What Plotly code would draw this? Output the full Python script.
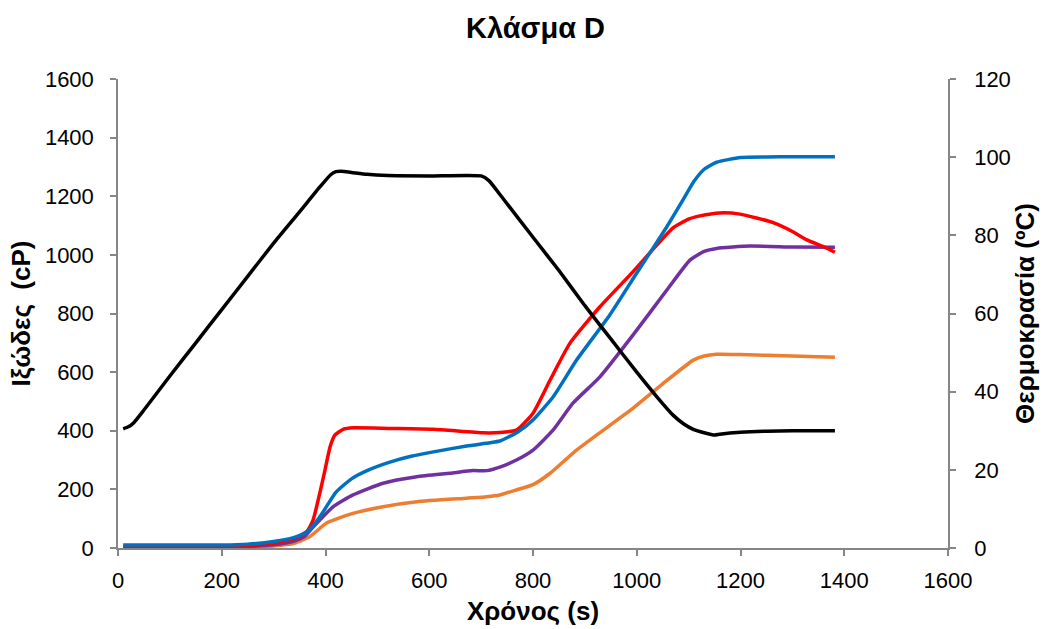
import plotly.graph_objects as go

# Temperature (right axis)
t_temp = [10, 20, 30, 50, 100, 150, 200, 250, 300, 350, 390, 410, 420, 430, 450, 480, 520, 600, 700,
          715, 740, 800, 850, 900, 950, 1000, 1040, 1070, 1090, 1110, 1130, 1150, 1160, 1200, 1250, 1300, 1382]
temp = [30.5, 31, 32, 35.3, 44, 52.5, 61, 69.5, 78, 86, 92.5, 95.5, 96.3, 96.4, 96.1, 95.6, 95.3, 95.2, 95.2,
        94, 89.8, 79.5, 71, 62, 53.5, 45, 38.5, 34, 31.8, 30.3, 29.5, 28.9, 29.1, 29.6, 29.9, 30, 30]

# Viscosity series (left axis)
t_blue = [10, 100, 200, 250, 300, 340, 365, 380, 396, 420, 450, 480, 524, 565, 608, 672, 717, 736, 770, 800,
          839, 884, 948, 1000, 1058, 1090, 1110, 1130, 1154, 1200, 1250, 1300, 1382]
blue = [10, 10, 10, 13, 22, 36, 55, 85, 125, 190, 236, 264, 293, 313, 328, 348, 359, 365, 395, 437,
        516, 641, 795, 938, 1096, 1190, 1250, 1292, 1316, 1332, 1334, 1335, 1335]

t_red = [10, 100, 200, 250, 300, 340, 364, 376, 389, 399, 409, 418, 434, 454, 524, 608, 704, 736, 768, 800,
         833, 871, 929, 993, 1070, 1100, 1122, 1160, 1199, 1263, 1300, 1328, 1360, 1382]
red = [3, 3, 3, 6, 16, 32, 56, 95, 187, 266, 346, 385, 405, 410, 408, 405, 393, 394, 402, 460,
       573, 698, 823, 943, 1092, 1122, 1133, 1143, 1139, 1110, 1080, 1051, 1028, 1009]

t_purple = [10, 100, 200, 250, 300, 340, 360, 377, 415, 453, 511, 576, 640, 684, 711, 736, 768, 800, 839,
            877, 929, 993, 1058, 1103, 1130, 1154, 1218, 1300, 1382]
purple = [3, 3, 3, 5, 11, 24, 40, 73, 141, 181, 221, 243, 255, 264, 264, 276, 300, 334, 403,
          494, 584, 727, 880, 983, 1012, 1022, 1030, 1027, 1026]

t_orange = [10, 100, 200, 250, 300, 340, 370, 402, 453, 511, 576, 672, 711, 736, 768, 800, 833, 884,
            993, 1050, 1109, 1130, 1154, 1200, 1300, 1382]
orange = [1, 1, 1, 3, 7, 16, 39, 85, 118, 141, 158, 170, 175, 181, 198, 216, 255, 334,
          477, 560, 641, 655, 661, 660, 655, 651]

x_ticks = [0, 200, 400, 600, 800, 1000, 1200, 1400, 1600]
y_ticks = [0, 200, 400, 600, 800, 1000, 1200, 1400, 1600]
y2_ticks = [0, 20, 40, 60, 80, 100, 120]

font_family = "Liberation Sans, Arial, sans-serif"
axis_color = "#868686"

fig = go.Figure()
lw = 3.5
sm = 0.5
fig.add_trace(go.Scatter(x=t_orange, y=orange, mode="lines", line=dict(color="#ED7D31", width=lw, shape="spline", smoothing=sm), showlegend=False))
fig.add_trace(go.Scatter(x=t_purple, y=purple, mode="lines", line=dict(color="#7030A0", width=lw, shape="spline", smoothing=sm), showlegend=False))
fig.add_trace(go.Scatter(x=t_red, y=red, mode="lines", line=dict(color="#FF0000", width=lw, shape="spline", smoothing=sm), showlegend=False))
fig.add_trace(go.Scatter(x=t_blue, y=blue, mode="lines", line=dict(color="#0070C0", width=lw, shape="spline", smoothing=sm), showlegend=False))
fig.add_trace(go.Scatter(x=t_temp, y=temp, mode="lines", yaxis="y2", line=dict(color="#000000", width=lw, shape="spline", smoothing=sm), showlegend=False))

axis_common = dict(showgrid=False, zeroline=False, showline=True, linecolor=axis_color, linewidth=1.5,
                   ticks="outside", ticklen=6, tickcolor=axis_color, tickwidth=1.5, automargin=False,
                   tickfont=dict(size=22, family=font_family, color="#000000"))

fig.update_layout(
    width=1049, height=629,
    margin=dict(l=118, r=101, t=79, b=81),
    paper_bgcolor="white", plot_bgcolor="white",
    font=dict(family=font_family, size=22, color="#000000"),
    title=dict(text="<b>Κλάσμα D</b>", x=0.503, xref="paper", xanchor="center", y=0.955, yanchor="middle",
               font=dict(size=29, family=font_family, color="#000000")),
    xaxis=dict(range=[0, 1600], tickvals=x_ticks, ticklabelstandoff=6,
               title=dict(text="<b>Χρόνος (s)</b>", font=dict(size=26), standoff=10), **axis_common),
    yaxis=dict(range=[0, 1600], tickvals=y_ticks, ticklabelstandoff=12,
               title=dict(text="<b>Ιξώδες&nbsp; (cP)</b>", font=dict(size=26), standoff=7), **axis_common),
    yaxis2=dict(range=[0, 120], tickvals=y2_ticks, overlaying="y", side="right", ticklabelstandoff=14,
                title=dict(text="<b>Θερμοκρασία (ºC)</b>", font=dict(size=26), standoff=6), **axis_common),
)

fig.write_html("out.html")
